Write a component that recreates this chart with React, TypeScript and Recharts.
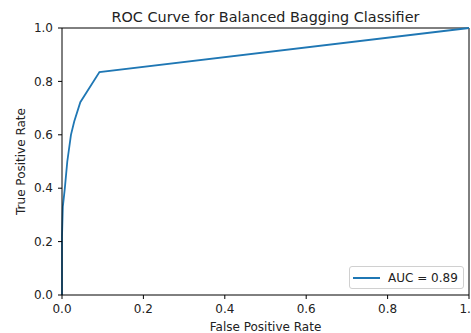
import React from "react";
import { LineChart, Line, XAxis, YAxis, ReferenceLine, Legend, Customized } from "recharts";

// ROC points
const fpr: number[] = [0, 0, 0.002, 0.007, 0.013, 0.022, 0.03, 0.045, 0.092, 1];
const tpr: number[] = [0, 0.22, 0.33, 0.4, 0.5, 0.6, 0.65, 0.722, 0.835, 1];
const ticks: number[] = [0, 0.2, 0.4, 0.6, 0.8, 1];
const title = "ROC Curve for Balanced Bagging Classifier";
const legendLabel = "AUC = 0.89";

const data = fpr.map((x, i) => ({ fpr: x, tpr: tpr[i] }));

const blue = "#1f77b4";
const ink = "#222";

const RocLegend = () => (
    <div
        style={{
            width: 113,
            height: 21,
            border: "1px solid #d0d0d0",
            borderRadius: 3,
            background: "rgba(255,255,255,0.8)",
            display: "flex",
            alignItems: "center",
            fontSize: 12,
            color: ink,
            boxSizing: "content-box",
        }}
    >
        <div style={{ width: 27, height: 2, background: blue, marginLeft: 3, marginRight: 8 }} />
        <span>{legendLabel}</span>
    </div>
);

const App: React.FC = () => {
    return (
        <div style={{ position: "absolute", left: 0, top: 0, width: 471, height: 333, fontFamily: "'DejaVu Sans', sans-serif", background: "#fff" }}>
            <LineChart width={471} height={333} data={data} margin={{ top: 28, right: 2, bottom: 0, left: 0 }}>
                <XAxis
                    dataKey="fpr"
                    type="number"
                    domain={[0, 1]}
                    ticks={ticks}
                    interval={0}
                    tickFormatter={(v: number) => v.toFixed(1)}
                    height={38}
                    tickSize={4}
                    tickMargin={5}
                    stroke="#000"
                    tick={{ fill: ink, fontSize: 12 }}
                    label={{ value: "False Positive Rate", position: "insideBottom", offset: 2, fill: ink, fontSize: 12 }}
                />
                <YAxis
                    type="number"
                    domain={[0, 1]}
                    ticks={ticks}
                    interval={0}
                    tickFormatter={(v: number) => v.toFixed(1)}
                    width={62}
                    tickSize={4}
                    tickMargin={5}
                    stroke="#000"
                    tick={{ fill: ink, fontSize: 12 }}
                    label={{ value: "True Positive Rate", angle: -90, position: "insideLeft", offset: 21, fill: ink, fontSize: 12, style: { textAnchor: "middle" } }}
                />
                <ReferenceLine y={1} stroke="#000" strokeWidth={1} />
                <ReferenceLine x={1} stroke="#000" strokeWidth={1} />
                <Line
                    type="linear"
                    dataKey="tpr"
                    stroke={blue}
                    strokeWidth={1.8}
                    dot={false}
                    isAnimationActive={false}
                />
                <Legend
                    layout="vertical"
                    align="center"
                    verticalAlign="middle"
                    wrapperStyle={{ left: 349, top: 266 }}
                    content={() => <RocLegend />}
                />
                <Customized
                    component={() => (
                        <text x={265.5} y={22} textAnchor="middle" fontSize={14.4} fill={ink}>
                            {title}
                        </text>
                    )}
                />
            </LineChart>
        </div>
    );
};

export default App;
